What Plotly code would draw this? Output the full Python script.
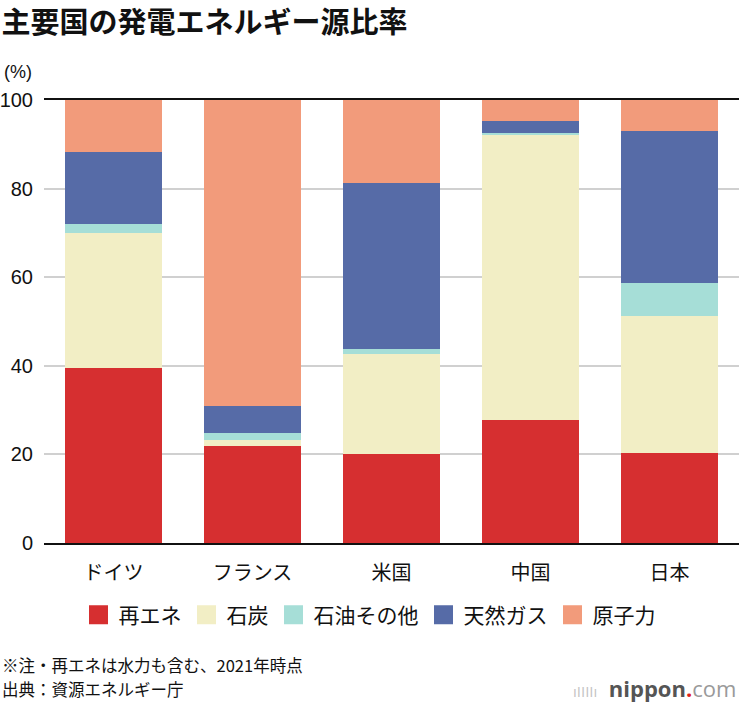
import plotly.graph_objects as go

countries = ["ドイツ", "フランス", "米国", "中国", "日本"]
series_names = ["再エネ", "石炭", "石油その他", "天然ガス", "原子力"]
renewables = [39.6, 21.8, 20.1, 27.7, 20.3]
coal = [30.4, 1.5, 22.6, 64.6, 30.9]
oil_other = [2.1, 1.5, 1.1, 0.3, 7.5]
gas = [16.2, 6.2, 37.5, 2.6, 34.4]
nuclear = [11.7, 69.0, 18.7, 4.8, 6.9]
y_ticks = [0, 20, 40, 60, 80, 100]

colors = ["#D62F30", "#F2EEC5", "#A6DED7", "#566BA7", "#F29B7B"]
all_values = [renewables, coal, oil_other, gas, nuclear]

JP = "Noto Sans CJK JP"
LAT = "Liberation Sans, Noto Sans CJK JP"

fig = go.Figure()
for name, vals, col in zip(series_names, all_values, colors):
    fig.add_trace(go.Bar(x=countries, y=vals, name=name, marker=dict(color=col, line=dict(width=0)),
                         showlegend=False, hoverinfo="x+y+name"))
# legend entries (larger square symbols)
for name, col in zip(series_names, colors):
    fig.add_trace(go.Scatter(x=[None], y=[None], mode="markers", name=name,
                             marker=dict(symbol="square", size=16, color=col, line=dict(color=col, width=3)),
                             showlegend=True))

W, H = 739, 702
L, R, T, B = 44, 0, 100, 159
pw = W - L - R
ph = H - T - B

def px_x(x):
    return (x - L) / pw

def px_y(y):
    return (H - B - y) / ph

fig.update_layout(
    width=W, height=H,
    margin=dict(l=L, r=R, t=T, b=B, pad=0),
    paper_bgcolor="white", plot_bgcolor="white",
    barmode="stack", bargap=0.30,
    font=dict(family=JP, color="#111111"),
    title=dict(text="<b>主要国の発電エネルギー源比率</b>", font=dict(family=JP, size=29, color="#111111"),
               xref="container", x=0.002, xanchor="left", yref="container", y=1 - 23 / H, yanchor="middle"),
    xaxis=dict(type="category", showline=True, linecolor="#111111", linewidth=2, mirror=True,
               showgrid=False, ticks="", tickfont=dict(family=JP, size=20, color="#111111"),
               ticklabelstandoff=11, fixedrange=True),
    yaxis=dict(range=[0, 100], tickvals=y_ticks, showgrid=True, gridcolor="#D0D0D0", gridwidth=1.5,
               zeroline=False, showline=False, ticks="", tickfont=dict(family=LAT, size=20, color="#111111"),
               ticklabelstandoff=10, fixedrange=True),
    legend=dict(orientation="h", xref="container", x=0.5, xanchor="center", traceorder="normal",
                yref="container", y=1 - 615 / H, yanchor="middle",
                font=dict(family=JP, size=21, color="#111111"), itemwidth=30,
                bgcolor="rgba(0,0,0,0)"),
    annotations=[
        dict(text="(%)", xref="paper", yref="paper", x=px_x(2), y=px_y(72), xanchor="left", yanchor="middle",
             showarrow=False, font=dict(family=LAT, size=18, color="#111111")),
        dict(text="※注・再エネは水力も含む、2021年時点", xref="paper", yref="paper", x=px_x(0), y=px_y(665),
             xanchor="left", yanchor="middle", showarrow=False, font=dict(family=JP, size=16.5, color="#111111")),
        dict(text="出典：資源エネルギー庁", xref="paper", yref="paper", x=px_x(0), y=px_y(689),
             xanchor="left", yanchor="middle", showarrow=False, font=dict(family=JP, size=16.5, color="#111111")),
        dict(text="<span style='font-size:15px;color:#C4C4C4'>ıIIIIı</span>  <b>nippon</b><span style='color:#E0201B'><b>.</b></span><span style='color:#9A9A9A'>com</span>",
             xref="paper", yref="paper", x=px_x(738), y=px_y(688), xanchor="right", yanchor="middle",
             showarrow=False, font=dict(family="Open Sans, DejaVu Sans", size=22, color="#555555")),
    ],
)

fig.write_html("out.html", config={"displayModeBar": False},
               post_script="document.body.style.margin='0';document.body.style.overflow='hidden';")
